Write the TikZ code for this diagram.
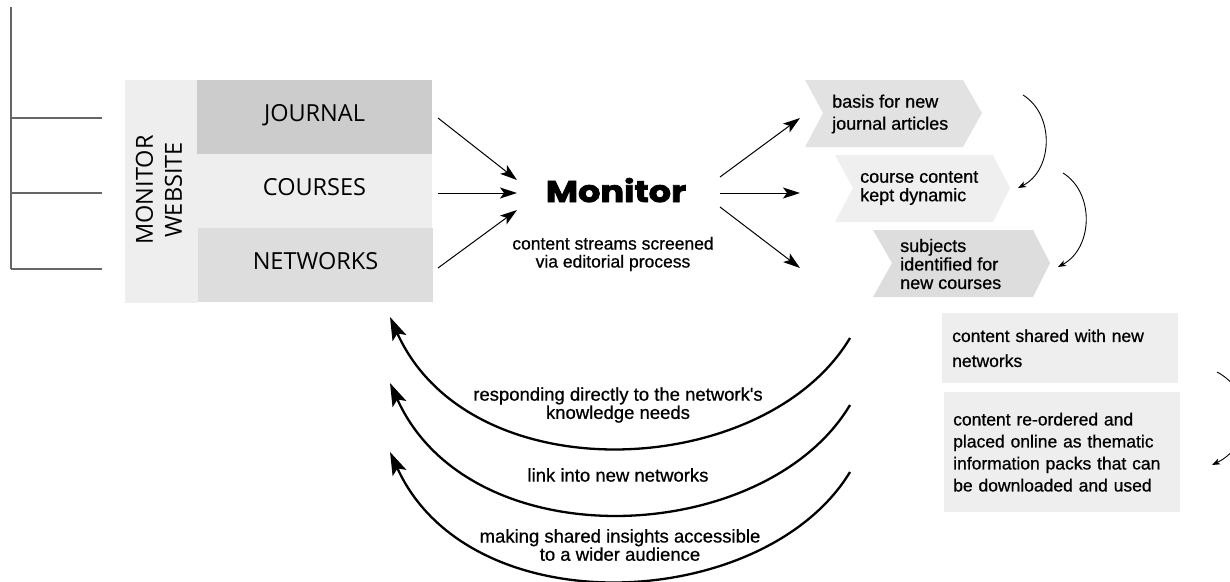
\documentclass[tikz,border=0pt]{standalone}
\usepackage{graphicx}
\usepackage{fontspec}
\setmainfont{Liberation Sans}[Ligatures=TeXOff, FakeBold=0.7]
\newfontfamily\capsfont{Open Sans}
\newfontfamily\titlefont{Poppins}[FakeBold=2.5]
\usetikzlibrary{arrows.meta}

\definecolor{cSide}{HTML}{EEEEEE}
\definecolor{cJournal}{HTML}{CCCCCC}
\definecolor{cCourses}{HTML}{EEEEEE}
\definecolor{cNetworks}{HTML}{DDDDDD}
\definecolor{cChevA}{HTML}{E2E2E2}
\definecolor{cChevB}{HTML}{EFEFEF}
\definecolor{cChevC}{HTML}{DDDDDD}
\definecolor{cInfo}{HTML}{EEEEEE}
\definecolor{cRule}{HTML}{666666}

\tikzset{
  tab/.style={rectangle, inner sep=0pt, text height=17pt, text depth=8pt,
    font=\capsfont\fontsize{23.5}{28}\selectfont},
  body/.style={inner sep=0pt, align=left, font=\fontsize{18}{#1}\selectfont},
  body/.default=20,
  arclabel/.style={inner sep=0pt, align=center, font=\fontsize{18.5}{16.5}\selectfont},
  infobox/.style={rectangle, fill=cInfo, inner ysep=0pt, align=left,
    anchor=north west, font=\fontsize{17.5}{#1}\selectfont},
  feed/.style={line width=1pt, -{Stealth[length=17pt,width=11pt,inset=4pt]}},
  loopback/.style={line width=2.3pt, -{Stealth[length=23pt,width=15pt,inset=5pt]}},
  cycle arc/.style={line width=0.9pt, -{Stealth[length=8pt,width=6pt,inset=2pt]}},
  rule/.style={draw=cRule, line width=1.1pt}
}

\begin{document}
\begin{tikzpicture}[x=1pt,y=-1pt]
\useasboundingbox (0,0) rectangle (1230,581);

% bracket rules on the far left
\draw[rule] (11,7) -- (11,269);
\draw[rule] (11,118) -- (102,118);
\draw[rule] (11,193) -- (102,193);
\draw[rule] (11,269) -- (102,269);

% website block
\node[tab, fill=cSide, minimum width=73pt, minimum height=223pt] (site) at (161.5,191.5) {};
\node[inner sep=0pt, rotate=90, align=center,
  font=\capsfont\fontsize{23.5}{29}\selectfont] (sitelabel) at (159,190) {MONITOR\\WEBSITE};
\node[tab, fill=cJournal, minimum width=235pt, minimum height=74pt] (journal) at (314.5,117) {JOURNAL};
\node[tab, fill=cCourses, minimum width=235pt, minimum height=74pt] (courses) at (314.5,191) {COURSES};
\node[tab, fill=cNetworks, minimum width=235pt, minimum height=74pt] (networks) at (315.5,265) {NETWORKS};

% central node
\node[anchor=base, inner sep=0pt] (monitor) at (616,202)
  {\scalebox{1.17}[1]{\titlefont\bfseries\fontsize{30}{30}\selectfont Monitor}};
\node[inner sep=0pt, align=center, font=\fontsize{17.5}{18}\selectfont] (screen) at (613,254)
  {content streams screened\\via editorial process};

% streams into the monitor
\coordinate (jOut) at (438,118);
\coordinate (cOut) at (438,193);
\coordinate (nOut) at (438,268);
\coordinate (mInA) at (517,180);
\coordinate (mInB) at (517,193);
\coordinate (mInC) at (517,210);
\draw[feed] (jOut) -- (mInA);
\draw[feed] (cOut) -- (mInB);
\draw[feed] (nOut) -- (mInC);

% streams out of the monitor
\coordinate (mOutA) at (720,177);
\coordinate (mOutB) at (720,193);
\coordinate (mOutC) at (720,207);
\coordinate (rA) at (800,118);
\coordinate (rB) at (800,193);
\coordinate (rC) at (800,268);
\draw[feed] (mOutA) -- (rA);
\draw[feed] (mOutB) -- (rB);
\draw[feed] (mOutC) -- (rC);

% outcome chevrons
\fill[cChevA] (805,80) -- (963,80) -- (982,113) -- (963,147) -- (805,147) -- (823,113) -- cycle;
\fill[cChevB] (835,155) -- (993,155) -- (1010,188) -- (993,222) -- (835,222) -- (853,188) -- cycle;
\fill[cChevC] (873,230) -- (1033,230) -- (1050,263) -- (1033,297) -- (873,297) -- (892,263) -- cycle;
\node[body=22, anchor=west] (chevA) at (832,114) {basis for new\\journal articles};
\node[body=18.5, anchor=west] (chevB) at (860,188) {course content\\kept dynamic};
\node[body=18.5, anchor=west] (chevC) at (900,264) {subjects\\identified for\\new courses};

% cycle arcs between the chevrons
\coordinate (cyA1) at (1023,95);
\coordinate (cyA2) at (1018,188);
\coordinate (cyB1) at (1063,173);
\coordinate (cyB2) at (1058,267);
\coordinate (cyC1) at (1217,372);
\coordinate (cyC2) at (1212,465);
\draw[cycle arc] (cyA1) .. controls (1055,115) and (1053,170) .. (cyA2);
\draw[cycle arc] (cyB1) .. controls (1095,193) and (1093,248) .. (cyB2);
\draw[cycle arc] (cyC1) .. controls (1255,392) and (1253,445) .. (cyC2);

% network outcomes
\node[infobox=25, text width=216pt, inner xsep=10pt, minimum height=70pt] (shared) at (942,313)
  {content shared with new\\networks};
\node[infobox=22, text width=218pt, inner xsep=9pt, minimum height=120pt] (packs) at (944,392)
  {content re-ordered and\\placed online as thematic\\information packs that can\\be downloaded and used};

% loops back to the website
\coordinate (lA1) at (850,338);
\coordinate (lA2) at (390,317);
\coordinate (lB1) at (850,405);
\coordinate (lB2) at (390,383);
\coordinate (lC1) at (850,472);
\coordinate (lC2) at (390,452);
\draw[loopback] (lA1) .. controls (765,480) and (470,495) .. (lA2);
\draw[loopback] (lB1) .. controls (765,547) and (470,561) .. (lB2);
\draw[loopback] (lC1) .. controls (765,612) and (470,628) .. (lC2);

\node[arclabel] (needs) at (618,405) {responding directly to the network's\\knowledge needs};
\node[arclabel] (link) at (618,475) {link into new networks};
\node[arclabel] (wider) at (620,545) {making shared insights accessible\\to a wider audience};
\end{tikzpicture}
\end{document}
